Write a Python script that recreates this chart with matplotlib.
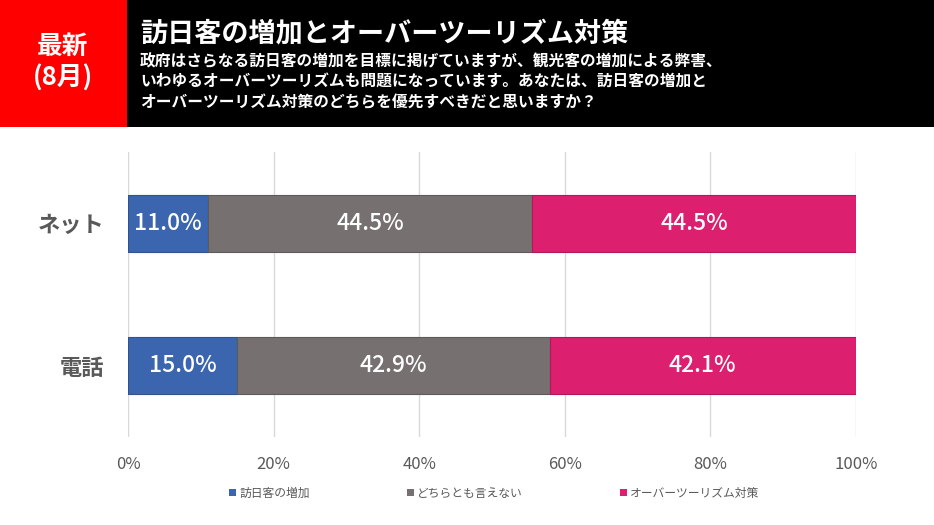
import matplotlib.pyplot as plt
from matplotlib.patches import Rectangle, Patch

plt.rcParams['font.family'] = ['Noto Sans CJK JP', 'DejaVu Sans']

groups = ['ネット', '電話']
series = ['訪日客の増加', 'どちらとも言えない', 'オーバーツーリズム対策']
values = {
    '訪日客の増加': [11.0, 15.0],
    'どちらとも言えない': [44.5, 42.9],
    'オーバーツーリズム対策': [44.5, 42.1],
}
colors = ['#3B66AF', '#767170', '#DC1F6E']
edges = ['#2F538F', '#5E5A59', '#B5175A']
xticks = [0, 20, 40, 60, 80, 100]

title = '訪日客の増加とオーバーツーリズム対策'
question = ['政府はさらなる訪日客の増加を目標に掲げていますが、観光客の増加による弊害、',
            'いわゆるオーバーツーリズムも問題になっています。あなたは、訪日客の増加と',
            'オーバーツーリズム対策のどちらを優先すべきだと思いますか？']

fig = plt.figure(figsize=(9.34, 5.25), dpi=100)

# header band
fig.patches.append(Rectangle((0, 1 - 127/525), 1, 127/525, transform=fig.transFigure,
                             facecolor='black', zorder=0))
fig.patches.append(Rectangle((0, 1 - 127/525), 127/934, 127/525, transform=fig.transFigure,
                             facecolor='#FF0000', zorder=1))
fig.text(63/934, 1 - 46/525, '最新', color='white', fontsize=18.5, fontweight='bold',
         ha='center', va='center')
fig.text(63/934, 1 - 78/525, '(8月)', color='white', fontsize=18.5, fontweight='bold',
         ha='center', va='center')
fig.text(140/934, 1 - 34/525, title, color='white', fontsize=19.5, fontweight='bold',
         ha='left', va='center')
for i, line in enumerate(question):
    fig.text(140/934, 1 - (61 + i*20.5)/525, line, color='white', fontsize=11.3,
             fontweight='bold', ha='left', va='center')

ax = fig.add_axes([128/934, 1 - 437/525, 728/934, 285/525])
left = [0, 0]
for s, c, e in zip(series, colors, edges):
    v = values[s]
    ax.barh(range(len(groups)), v, left=left, height=0.4, color=c, edgecolor=e,
            linewidth=0.8, zorder=3)
    for i in range(len(groups)):
        ax.text(left[i] + v[i]/2, i, f'{v[i]:.1f}%', color='white', fontsize=16.5,
                fontweight='medium', ha='center', va='center', zorder=4)
    left = [a + b for a, b in zip(left, v)]

ax.set_xlim(0, 100)
ax.set_ylim(1.5, -0.5)
ax.set_xticks(xticks)
ax.set_xticklabels([f'{t}%' for t in xticks], color='#595959', fontsize=12)
ax.set_yticks(range(len(groups)))
ax.set_yticklabels(groups, color='#595959', fontsize=16, fontweight='bold')
ax.tick_params(length=0)
ax.tick_params(axis='x', pad=14)
ax.tick_params(axis='y', pad=17)
ax.grid(axis='x', color='#D9D9D9', linewidth=1, zorder=0)
for sp in ax.spines.values():
    sp.set_visible(False)

handles = [Patch(facecolor=c) for c in colors]
fig.legend(handles, series, loc='center', bbox_to_anchor=(0.529, 1 - 493/525), ncol=3,
           frameon=False, fontsize=8.5, handlelength=0.6, handleheight=0.6,
           handletextpad=0.3, columnspacing=8.2, labelcolor='#595959')

fig.savefig('out.png', dpi=100)
